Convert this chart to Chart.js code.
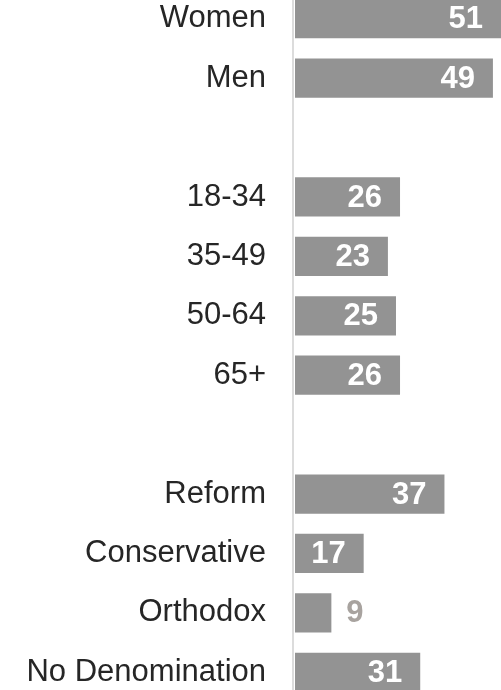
<!DOCTYPE html>
<html>
<head>
<meta charset="utf-8">
<script src="https://cdn.jsdelivr.net/npm/chart.js@4/dist/chart.umd.min.js"></script>
<style>
  html, body { margin: 0; padding: 0; background: #ffffff; overflow: hidden; }
  body { width: 501px; height: 690px; position: relative; }
  #wrap { position: absolute; left: 0; top: -11px; width: 501px; height: 713px; }
</style>
</head>
<body>
<div id="wrap"><canvas id="c"></canvas></div>
<script>
// ---- data ----
const genderLabels = ['Women', 'Men'];
const genderValues = [51, 49];
const ageLabels = ['18-34', '35-49', '50-64', '65+'];
const ageValues = [26, 23, 25, 26];
const denomLabels = ['Reform', 'Conservative', 'Orthodox', 'No Denomination'];
const denomValues = [37, 17, 9, 31];

// groups separated by one blank row
const labels = [...genderLabels, '', ...ageLabels, '', ...denomLabels];
const values = [...genderValues, null, ...ageValues, null, ...denomValues];

const BAR_COLOR = '#939393';
const TEXT_COLOR = '#262626';
const OUTSIDE_COLOR = '#a8a39f';
const FONT = '"Liberation Sans", Arial, sans-serif';

const valueLabels = {
  id: 'valueLabels',
  afterDatasetsDraw(chart) {
    const ctx = chart.ctx;
    const meta = chart.getDatasetMeta(0);
    ctx.save();
    ctx.font = 'bold 31px ' + FONT;
    ctx.textBaseline = 'middle';
    meta.data.forEach((bar, i) => {
      const v = chart.data.datasets[0].data[i];
      if (v === null || v === undefined) return;
      const width = bar.x - bar.base;
      const txt = String(v);
      const tw = ctx.measureText(txt).width;
      if (tw + 24 < width) {
        ctx.fillStyle = '#ffffff';
        ctx.textAlign = 'right';
        ctx.fillText(txt, bar.x - 18, bar.y + 1);
      } else {
        ctx.fillStyle = OUTSIDE_COLOR;
        ctx.textAlign = 'left';
        ctx.fillText(txt, bar.x + 15, bar.y + 1);
      }
    });
    ctx.restore();
  }
};

new Chart(document.getElementById('c'), {
  type: 'bar',
  data: {
    labels: labels,
    datasets: [{
      data: values,
      backgroundColor: BAR_COLOR,
      borderWidth: 0,
      barPercentage: 0.66,
      categoryPercentage: 1
    }]
  },
  plugins: [valueLabels],
  options: {
    indexAxis: 'y',
    responsive: true,
    maintainAspectRatio: false,
    animation: false,
    layout: { padding: 0 },
    plugins: { legend: { display: false }, tooltip: { enabled: false } },
    scales: {
      x: {
        display: false,
        min: -0.5,
        max: 51
      },
      y: {
        afterFit(scale) {
          scale.width = 293;
          scale.paddingTop = 0;
          scale.paddingBottom = 0;
        },
        grid: { display: false, drawTicks: false },
        border: { display: true, color: '#dcdcdc', width: 2 },
        ticks: {
          padding: 27,
          color: TEXT_COLOR,
          font: { family: FONT, size: 31 },
          autoSkip: false
        }
      }
    }
  }
});
</script>
</body>
</html>
